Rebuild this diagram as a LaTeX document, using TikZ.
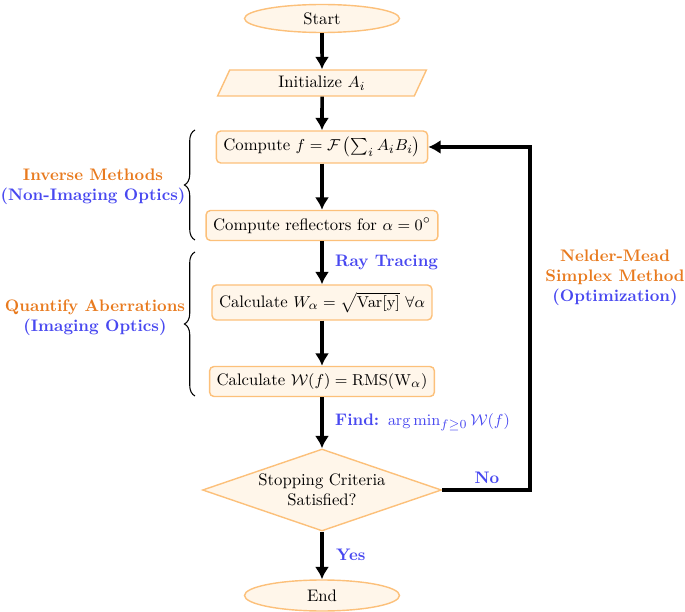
\documentclass[tikz,border=0pt]{standalone}
\usepackage{amsmath,amssymb}
\usetikzlibrary{shapes.geometric,arrows.meta,decorations.pathreplacing}
\definecolor{boxfill}{RGB}{255,246,234}
\definecolor{boxline}{RGB}{252,192,122}
\definecolor{txtorange}{RGB}{232,122,30}
\definecolor{txtblue}{RGB}{72,72,240}
\newcommand{\figfont}{\fontsize{9.5}{11.5}\selectfont}
\tikzset{
  flowbox/.style={rectangle, rounded corners=2.5pt, draw=boxline, fill=boxfill, thick, inner xsep=4pt, minimum height=0.6cm},
  termbox/.style={ellipse, draw=boxline, fill=boxfill, thick, minimum width=3.1cm, minimum height=0.56cm, inner sep=0pt},
  iobox/.style={trapezium, trapezium left angle=76, trapezium right angle=104, trapezium stretches=true, draw=boxline, fill=boxfill, thick, minimum width=4.18cm, minimum height=0.52cm},
  testbox/.style={diamond, aspect=2.9, draw=boxline, fill=boxfill, thick, minimum width=4.78cm, minimum height=1.64cm, inner sep=0pt, align=center},
  flow/.style={->, line width=2pt},
  lbl/.style={font=\figfont\bfseries, text=txtblue},
  side/.style={font=\figfont\bfseries, align=center},
  grp/.style={decorate, decoration={brace, amplitude=6pt}, semithick},
}
\begin{document}
\begin{tikzpicture}[>={Latex[length=7pt,width=8pt]}, font=\figfont]
\useasboundingbox (0,0) rectangle (13.7,-12.24);
% passi del diagramma
\node[termbox] (start) at (6.44,-0.37) {Start};
\node[iobox] (init) at (6.44,-1.66) {Initialize $A_i$};
\node[flowbox, minimum height=0.64cm] (compf) at (6.44,-2.94) {Compute $f=\mathcal{F}\left(\sum_i A_iB_i\right)$};
\node[flowbox] (refl) at (6.44,-4.51) {Compute reflectors for $\alpha=0^\circ$};
\node[flowbox, minimum height=0.7cm] (calcw) at (6.44,-6.05) {Calculate $W_\alpha=\sqrt{\mathrm{Var[y]}}\ \forall\alpha$};
\node[flowbox] (calcW) at (6.44,-7.63) {Calculate $\mathcal{W}(f)=\mathrm{RMS(W_\alpha)}$};
\node[testbox] (stop) at (6.44,-9.80) {Stopping Criteria\\Satisfied?};
\node[termbox, minimum height=0.62cm] (end) at (6.44,-11.91) {End};

% frecce
\draw[flow] (start) -- (init);
\draw[flow] (init) -- (compf);
\draw[flow] (compf) -- (refl);
\draw[flow] (refl) -- (calcw);
\draw[flow] (calcw) -- (calcW);
\draw[flow] (calcW) -- (stop);
\draw[flow] (stop) -- (end);
% ritorno dell'ottimizzazione
\coordinate (loop) at (10.6,-2.94);
\draw[flow] (stop.east) -| (loop) -- (compf.east);

% etichette sulle frecce
\node[lbl, anchor=west] (ray) at (6.58,-5.24) {Ray Tracing};
\node[lbl, anchor=west] (find) at (6.58,-8.44) {Find: \color{txtblue}$\arg\min_{f\geq0}\mathcal{W}(f)$};
\node[lbl, anchor=west] (yes) at (6.6,-11.1) {Yes};
\node[lbl] (no) at (9.74,-9.55) {No};

% graffe a sinistra
\draw[grp] (3.9,-4.8) -- (3.9,-2.6);
\draw[grp] (3.9,-7.92) -- (3.9,-5.04);
\node[side] (inv) at (1.86,-3.74) {\textcolor{txtorange}{Inverse Methods}\\\textcolor{txtblue}{(Non-Imaging Optics)}};
\node[side] (quant) at (1.9,-6.36) {\textcolor{txtorange}{Quantify Aberrations}\\\textcolor{txtblue}{(Imaging Optics)}};
\node[side] (nm) at (12.3,-5.56) {\textcolor{txtorange}{Nelder-Mead}\\\textcolor{txtorange}{Simplex Method}\\\textcolor{txtblue}{(Optimization)}};
\end{tikzpicture}
\end{document}
